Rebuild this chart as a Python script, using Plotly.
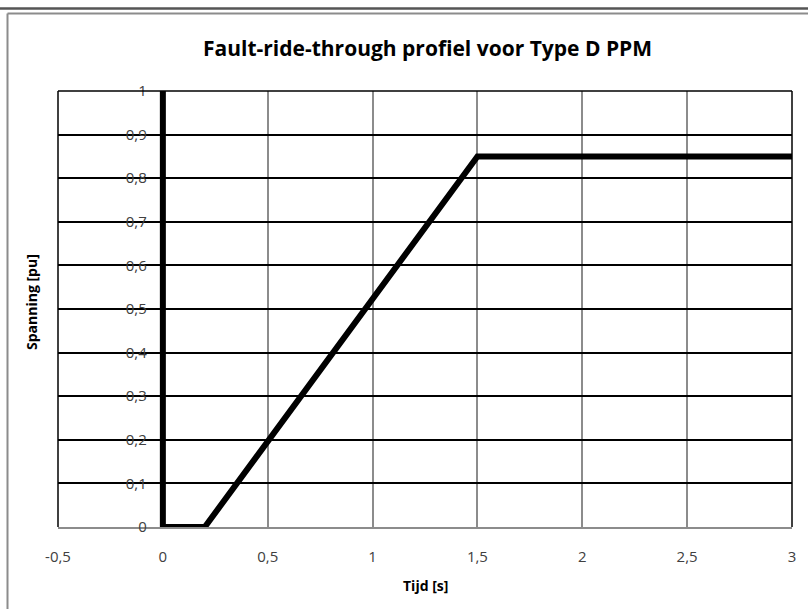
import plotly.graph_objects as go

# Data: Fault-ride-through profile points
tijd = [0, 0, 0.2, 1.5, 3]
spanning = [1, 0, 0, 0.85, 0.85]

x_ticks = [-0.5, 0, 0.5, 1, 1.5, 2, 2.5, 3]
x_labels = ["-0,5", "0", "0,5", "1", "1,5", "2", "2,5", "3"]
y_ticks = [0, 0.1, 0.2, 0.3, 0.4, 0.5, 0.6, 0.7, 0.8, 0.9, 1]
y_labels = ["0", "0,1", "0,2", "0,3", "0,4", "0,5", "0,6", "0,7", "0,8", "0,9", "1"]

W, H = 808, 609
L, R, T, B = 58, 16, 91, 82
pw = W - L - R
ph = H - T - B

def px(xp):
    return (xp - L) / pw

def py(yp):
    return (H - B - yp) / ph

fig = go.Figure()
fig.add_trace(go.Scatter(
    x=tijd, y=spanning, mode="lines",
    line=dict(color="black", width=6),
    showlegend=False, hoverinfo="skip",
))

font_family = "Open Sans, Noto Sans, sans-serif"

fig.update_layout(
    width=W, height=H,
    margin=dict(l=L, r=R, t=T, b=B),
    paper_bgcolor="white", plot_bgcolor="white",
    showlegend=False,
    font=dict(family=font_family, color="#404040", size=15),
    xaxis=dict(
        range=[-0.5, 3], tickmode="array", tickvals=x_ticks, ticktext=x_labels,
        showgrid=True, gridcolor="#8c8c8c", gridwidth=1.5,
        zeroline=False, showline=True, linecolor="#8c8c8c", linewidth=1.5,
        ticks="", ticklabelstandoff=15,
        tickfont=dict(size=15, color="#404040"),
        fixedrange=True,
    ),
    yaxis=dict(
        range=[0, 1], tickmode="array", tickvals=y_ticks, ticktext=y_labels,
        showgrid=True, gridcolor="black", gridwidth=1.5,
        zeroline=False, showline=False,
        anchor="free", position=(0 - (-0.5)) / 3.5,
        ticks="", ticklabelstandoff=16,
        tickfont=dict(size=15, color="#404040"),
        fixedrange=True,
    ),
    shapes=[
        dict(type="line", xref="x domain", yref="y domain", x0=0, x1=0, y0=0, y1=1,
             line=dict(color="black", width=1.5), layer="above"),
        dict(type="line", xref="x domain", yref="y domain", x0=0, x1=1, y0=1, y1=1,
             line=dict(color="black", width=1.5), layer="above"),
        dict(type="line", xref="x domain", yref="y domain", x0=1, x1=1, y0=0, y1=1,
             line=dict(color="black", width=1.5), layer="above"),
        dict(type="line", xref="paper", yref="paper", x0=px(0), x1=px(W), y0=py(8.5), y1=py(8.5),
             line=dict(color="#555555", width=2.5)),
        dict(type="line", xref="paper", yref="paper", x0=px(7.5), x1=px(W), y0=py(13.5), y1=py(13.5),
             line=dict(color="#8c8c8c", width=2)),
        dict(type="line", xref="paper", yref="paper", x0=px(7.5), x1=px(7.5), y0=py(13.5), y1=py(H),
             line=dict(color="#8c8c8c", width=2)),
    ],
    annotations=[
        dict(text="<b>Fault-ride-through profiel voor Type D PPM</b>", xref="paper", yref="paper",
             x=px(427), y=py(48), xanchor="center", yanchor="middle", showarrow=False,
             font=dict(size=21, color="black", family=font_family)),
        dict(text="<b>Tijd [s]</b>", xref="paper", yref="paper",
             x=px(425), y=py(585), xanchor="center", yanchor="middle", showarrow=False,
             font=dict(size=14, color="black", family=font_family)),
        dict(text="<b>Spanning [pu]</b>", xref="paper", yref="paper",
             x=px(31), y=py(302), xanchor="center", yanchor="middle", showarrow=False,
             textangle=-90,
             font=dict(size=14, color="black", family=font_family)),
    ],
)

fig.write_html("out.html", config={"displayModeBar": False},
               post_script="document.body.style.margin='0';document.body.style.overflow='hidden';")
